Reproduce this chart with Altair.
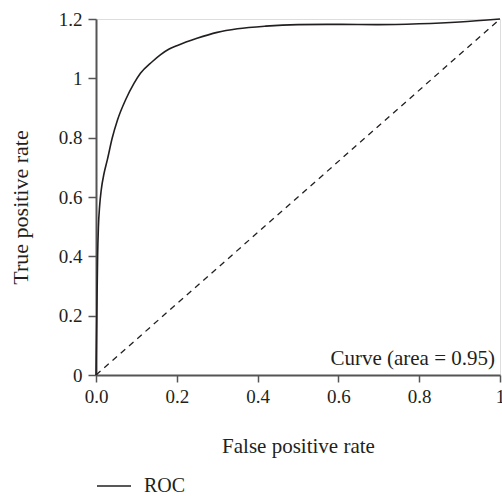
import altair as alt
import pandas as pd

# ROC curve points (false positive rate, true positive rate)
fpr = [0.0, 0.001, 0.002, 0.004, 0.006, 0.009, 0.013, 0.020, 0.028, 0.040, 0.053,
       0.073, 0.094, 0.11, 0.139, 0.16, 0.18, 0.20, 0.25, 0.30, 0.35, 0.42, 0.50,
       0.60, 0.70, 0.80, 0.90, 1.0]
tpr = [0.0, 0.1, 0.2, 0.4, 0.5, 0.57, 0.624, 0.68, 0.725, 0.798, 0.859,
       0.927, 0.983, 1.017, 1.056, 1.08, 1.098, 1.11, 1.135, 1.155, 1.167, 1.176, 1.181,
       1.182, 1.181, 1.184, 1.19, 1.2]

# chance diagonal
diag_x = [0.0, 1.0]
diag_y = [0.0, 1.2]

x_ticks = [0.0, 0.2, 0.4, 0.6, 0.8, 1.0]
y_ticks = [0.0, 0.2, 0.4, 0.6, 0.8, 1.0, 1.2]
auc = 0.95
series_name = "ROC"

FONT = "Liberation Serif"
INK = "#231f20"
AXIS = "#555555"

roc = pd.DataFrame({"fpr": fpr, "tpr": tpr, "series": series_name})
diag = pd.DataFrame({"fpr": diag_x, "tpr": diag_y})
label = pd.DataFrame({"fpr": [1.0], "tpr": [0.0],
                      "text": [f"Curve (area = {auc:.2f})"]})

x_scale = alt.Scale(domain=[0, 1], nice=False, zero=False)
y_scale = alt.Scale(domain=[0, 1.2], nice=False, zero=False)

x_axis = alt.Axis(
    title="False positive rate", values=x_ticks,
    labelExpr="datum.value == 1 ? '1' : format(datum.value, '.1f')",
    grid=False, domainColor=AXIS, domainWidth=2, tickColor=AXIS, tickWidth=1.5,
    tickSize=7, labelFont=FONT, labelFontSize=19, labelColor=INK, labelPadding=5,
    titleFont=FONT, titleFontSize=21, titleFontWeight="normal", titleColor=INK,
    titlePadding=29, labelFlush=False,
)
y_axis = alt.Axis(
    title="True positive rate", values=y_ticks, format="~g",
    grid=False, domainColor=AXIS, domainWidth=2, tickColor=AXIS, tickWidth=1.5,
    tickSize=8, labelFont=FONT, labelFontSize=19, labelColor=INK, labelPadding=6,
    titleFont=FONT, titleFontSize=22, titleFontWeight="normal", titleColor=INK,
    titlePadding=26, titleY=188, labelFlush=False,
)

curve = alt.Chart(roc).mark_line(strokeWidth=1.6, interpolate="monotone").encode(
    x=alt.X("fpr:Q", scale=x_scale, axis=x_axis),
    y=alt.Y("tpr:Q", scale=y_scale, axis=y_axis),
    color=alt.Color(
        "series:N",
        scale=alt.Scale(range=[INK]),
        legend=alt.Legend(
            title=None, orient="none", legendX=0, legendY=449,
            symbolType="stroke", symbolSize=1156, symbolStrokeWidth=1.4,
            labelFont=FONT, labelFontSize=20, labelColor=INK, labelOffset=12,
        ),
    ),
)

chance = alt.Chart(diag).mark_line(
    strokeWidth=1.3, strokeDash=[6, 5], color=INK
).encode(x=alt.X("fpr:Q", scale=x_scale), y=alt.Y("tpr:Q", scale=y_scale))

note = alt.Chart(label).mark_text(
    align="right", baseline="bottom", dx=-5, dy=-6,
    font=FONT, fontSize=21, color=INK,
).encode(x=alt.X("fpr:Q", scale=x_scale), y=alt.Y("tpr:Q", scale=y_scale),
         text="text:N")

chart = (
    alt.layer(chance, curve, note)
    .properties(
        width=404, height=356,
        autosize=alt.AutoSizeParams(type="none"),
        padding={"left": 96, "top": 19, "right": 2, "bottom": 123},
    )
    .configure_view(stroke="black", strokeWidth=1.2)
    .configure(background="white")
)

chart.save("out.html", embed_options={"renderer": "svg", "actions": False})
